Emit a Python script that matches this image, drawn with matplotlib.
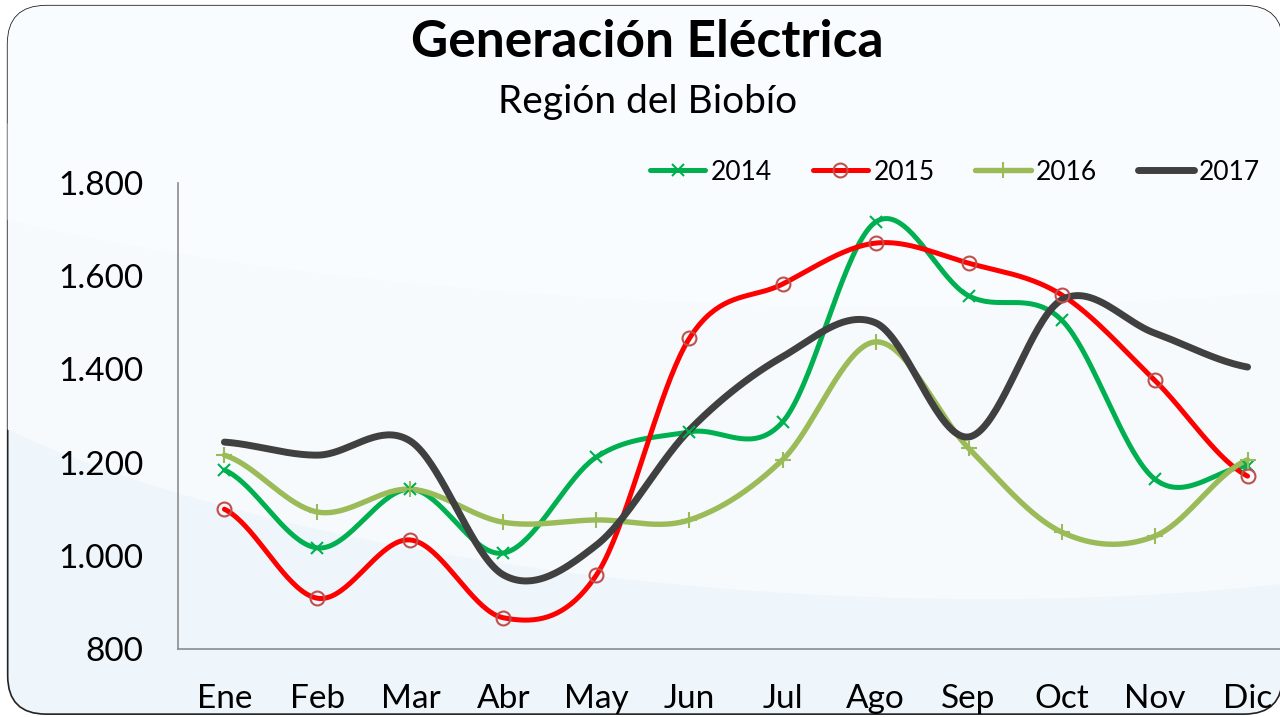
import numpy as np
import matplotlib
matplotlib.use("Agg")
import matplotlib.pyplot as plt
from matplotlib.patches import FancyBboxPatch, Ellipse
from matplotlib.ticker import FuncFormatter, MultipleLocator

plt.rcParams['font.family'] = ['Lato', 'DejaVu Sans']

months = ["Ene", "Feb", "Mar", "Abr", "May", "Jun", "Jul", "Ago", "Sep", "Oct", "Nov", "Dic"]
s2014 = [1184, 1017, 1143, 1006, 1212, 1266, 1287, 1716, 1558, 1506, 1165, 1193]
s2015 = [1100, 909, 1034, 867, 959, 1467, 1583, 1671, 1628, 1560, 1377, 1171]
s2016 = [1216, 1094, 1143, 1072, 1077, 1077, 1206, 1459, 1231, 1051, 1042, 1206]
s2017 = [1244, 1216, 1246, 959, 1023, 1270, 1427, 1500, 1255, 1549, 1478, 1405]
years = ["2014", "2015", "2016", "2017"]


def smooth(y, n=40):
    y = np.asarray(y, float)
    x = np.arange(len(y), dtype=float)
    xs, ys = [], []
    for i in range(len(y) - 1):
        p0 = y[i - 1] if i > 0 else y[i]
        p3 = y[i + 2] if i + 2 < len(y) else y[i + 1]
        p1, p2 = y[i], y[i + 1]
        c1 = p1 + (p2 - p0) / 6.0
        c2 = p2 - (p3 - p1) / 6.0
        t = np.linspace(0, 1, n, endpoint=(i == len(y) - 2))
        b = ((1 - t) ** 3) * p1 + 3 * ((1 - t) ** 2) * t * c1 + 3 * (1 - t) * t ** 2 * c2 + t ** 3 * p2
        xs.append(x[i] + t)
        ys.append(b)
    return np.concatenate(xs), np.concatenate(ys)


fig = plt.figure(figsize=(12.8, 7.17), dpi=100)
fig.patch.set_facecolor("white")
bg = FancyBboxPatch((0.006, 0.004), 0.996, 0.988, boxstyle="round,pad=0,rounding_size=0.03",
                    transform=fig.transFigure, facecolor="#EEF5FB", edgecolor="#222222",
                    linewidth=1.2, mutation_aspect=1.78, zorder=-10)
fig.patches.append(bg)
# subtle lighter swoosh in background
sw = Ellipse((0.62, 0.55), 1.5, 0.75, angle=-8, transform=fig.transFigure,
             facecolor="#F6FAFD", edgecolor="none", zorder=-9)
fig.patches.append(sw)
sw.set_clip_path(bg)
sw2 = Ellipse((0.6, 0.85), 1.6, 0.55, angle=-3, transform=fig.transFigure,
              facecolor="#F9FCFE", edgecolor="none", zorder=-8)
fig.patches.append(sw2)
sw2.set_clip_path(bg)

ax = fig.add_axes([0.139, 0.0948, 0.872, 0.650])
ax.set_facecolor("none")

styles = [
    (s2014, "#00B050", 3.6, dict(marker="x", ms=9, mew=1.5, mec="#00B050", mfc="none")),
    (s2015, "#FF0000", 3.6, dict(marker="o", ms=10, mew=1.5, mec="#C0504D", mfc="none")),
    (s2016, "#9BBB59", 3.9, dict(marker="+", ms=12, mew=1.5, mec="#9BBB59", mfc="none")),
    (s2017, "#404040", 5.0, dict(marker=None)),
]
xi = np.arange(len(months))
handles = []
for (vals, col, lw, mk), yr in zip(styles, years):
    xs, ys = smooth(vals)
    ax.plot(xs, ys, color=col, lw=lw, solid_capstyle="round", zorder=3)
    if mk.get("marker"):
        ax.plot(xi, vals, linestyle="none", zorder=4, **mk)
    h, = ax.plot([], [], color=col, lw=lw, solid_capstyle="round", **mk)
    handles.append(h)

ax.set_xlim(-0.5, len(months) - 0.5)
ax.set_ylim(800, 1800)
ax.yaxis.set_major_locator(MultipleLocator(200))
ax.yaxis.set_major_formatter(FuncFormatter(lambda v, p: f"{int(v):,}".replace(",", ".")))
ax.set_xticks(xi)
ax.set_xticklabels(months)
ax.tick_params(axis="both", length=0, labelsize=24, colors="black")
ax.tick_params(axis="x", pad=25)
ax.tick_params(axis="y", pad=25)
for s in ["top", "right"]:
    ax.spines[s].set_visible(False)
for s in ["left", "bottom"]:
    ax.spines[s].set_color("#8C8C8C")
    ax.spines[s].set_linewidth(1.2)

fig.text(0.506, 0.941, "Generación Eléctrica", ha="center", va="center",
         fontsize=37, fontweight="bold", color="black")
fig.text(0.506, 0.858, "Región del Biobío", ha="center", va="center",
         fontsize=28, color="black")

fig.legend(handles, years, loc="center", bbox_to_anchor=(0.746, 0.760), ncol=4,
           frameon=False, fontsize=19, handlelength=2.1, handletextpad=0.2,
           columnspacing=1.55, borderpad=0, borderaxespad=0)

fig.savefig("out.png", dpi=100, facecolor=fig.get_facecolor())
